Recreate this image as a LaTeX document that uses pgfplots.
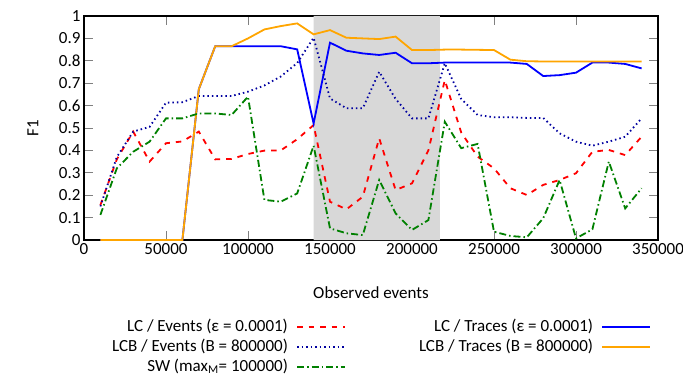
\documentclass[border=0pt]{standalone}
\usepackage{pgfplots}
\pgfplotsset{compat=1.18}
\usepackage{fontspec}
\setmainfont{Carlito}
\newcommand\eps{\symbol{"03B5}}
\definecolor{lcred}{RGB}{255,0,0}
\definecolor{lcblue}{RGB}{0,0,255}
\definecolor{lcnavy}{RGB}{0,0,160}
\definecolor{lcorange}{RGB}{255,165,0}
\definecolor{lcgreen}{RGB}{0,128,0}
\definecolor{lcshade}{RGB}{216,216,216}
\tikzset{
 sred/.style={draw=lcred, line width=1.8bp, dash pattern=on 5.5bp off 6bp},
 sblue/.style={draw=lcblue, line width=1.8bp},
 snavy/.style={draw=lcnavy, line width=1.8bp, dash pattern=on 1.5bp off 3bp},
 sorange/.style={draw=lcorange, line width=1.8bp},
 sgreen/.style={draw=lcgreen, line width=1.8bp, dash pattern=on 7bp off 3bp on 1.5bp off 3bp},
}
\pgfplotsset{
 lred/.style={legend image code/.code={\path (0bp,-2bp) (55bp,2bp); \draw[sred] (7bp,0bp) -- (55bp,0bp);}},
 lblue/.style={legend image code/.code={\path (0bp,-2bp) (55bp,2bp); \draw[sblue] (7bp,0bp) -- (55bp,0bp);}},
 lnavy/.style={legend image code/.code={\path (0bp,-2bp) (55bp,2bp); \draw[snavy] (7bp,0bp) -- (55bp,0bp);}},
 lorange/.style={legend image code/.code={\path (0bp,-2bp) (55bp,2bp); \draw[sorange] (7bp,0bp) -- (55bp,0bp);}},
 lgreen/.style={legend image code/.code={\path (0bp,-2bp) (55bp,2bp); \draw[sgreen] (7bp,0bp) -- (55bp,0bp);}},
}
\begin{document}
\begin{tikzpicture}
\begin{axis}[
 name=ax,
 scale only axis, width=574bp, height=224bp,
 xmin=0, xmax=350000, ymin=0, ymax=1,
 xtick={0,50000,100000,150000,200000,250000,300000,350000},
 ytick={0,0.1,0.2,0.3,0.4,0.5,0.6,0.7,0.8,0.9,1},
 scaled x ticks=false,
 xticklabel style={/pgf/number format/fixed, /pgf/number format/1000 sep={}},
 yticklabel style={/pgf/number format/fixed},
 /pgf/number format/assume math mode=true,
 font=\fontsize{17bp}{20bp}\selectfont,
 tick align=inside, major tick length=9bp,
 tick style={gray, line width=0.8bp},
 axis line style={line width=1.2bp},
 xlabel={Observed events}, ylabel={F1},
 every axis x label/.style={at={(axis description cs:0.5,-0.237)}, anchor=center},
 every axis y label/.style={at={(axis description cs:-0.089,0.5)}, rotate=90, anchor=center},
 legend columns=2, legend cell align=right, legend plot pos=right,
 legend style={draw=none, fill=none, at={(axis description cs:0.040,-0.335)}, anchor=north west,
   font=\fontsize{17bp}{20bp}\selectfont,
   nodes={inner sep=2bp, text height=12bp, text depth=4bp},
   /tikz/every even column/.append style={column sep=71bp}},
]
\addlegendimage{lred}
\addlegendentry{LC / Events (\eps{} = 0.0001)}
\addlegendimage{lblue}
\addlegendentry{LC / Traces (\eps{} = 0.0001)}
\addlegendimage{lnavy}
\addlegendentry{LCB / Events (B = 800000)}
\addlegendimage{lorange}
\addlegendentry{LCB / Traces (B = 800000)}
\addlegendimage{lgreen}
\addlegendentry{SW (max\textsubscript{M}= 100000)}

\addplot[fill=lcshade, draw=none, forget plot] coordinates {(140000,0) (217000,0) (217000,1) (140000,1)} \closedcycle;

\addplot[sred, forget plot] coordinates {
(10000,0.156) (20000,0.36) (30000,0.484) (40000,0.35) (50000,0.432) (60000,0.44) (70000,0.484) (80000,0.36) (90000,0.362) (100000,0.384) (110000,0.399) (120000,0.40) (130000,0.45) (140000,0.513) (150000,0.171) (160000,0.137) (170000,0.193) (180000,0.454) (190000,0.223) (200000,0.253) (210000,0.40) (220000,0.714) (230000,0.48) (240000,0.372) (250000,0.32) (260000,0.231) (270000,0.201) (280000,0.246) (290000,0.268) (300000,0.298) (310000,0.394) (320000,0.402) (330000,0.379) (340000,0.461)};

\addplot[sblue, forget plot] coordinates {
(10000,0) (20000,0) (30000,0) (40000,0) (50000,0) (60000,0) (70000,0.673) (80000,0.865) (90000,0.865) (100000,0.865) (110000,0.865) (120000,0.865) (130000,0.851) (140000,0.52) (150000,0.881) (160000,0.845) (170000,0.833) (180000,0.826) (190000,0.836) (200000,0.789) (210000,0.789) (220000,0.792) (230000,0.792) (240000,0.792) (250000,0.792) (260000,0.792) (270000,0.786) (280000,0.732) (290000,0.736) (300000,0.747) (310000,0.792) (320000,0.792) (330000,0.786) (340000,0.766)};

\addplot[snavy, forget plot] coordinates {
(10000,0.15) (20000,0.37) (30000,0.484) (40000,0.505) (50000,0.613) (60000,0.615) (70000,0.643) (80000,0.643) (90000,0.643) (100000,0.662) (110000,0.69) (120000,0.73) (130000,0.79) (140000,0.903) (150000,0.632) (160000,0.588) (170000,0.588) (180000,0.751) (190000,0.63) (200000,0.543) (210000,0.543) (220000,0.789) (230000,0.63) (240000,0.558) (250000,0.548) (260000,0.548) (270000,0.545) (280000,0.545) (290000,0.476) (300000,0.439) (310000,0.421) (320000,0.439) (330000,0.461) (340000,0.543)};

\addplot[sorange, forget plot] coordinates {
(10000,0) (20000,0) (30000,0) (40000,0) (50000,0) (60000,0) (70000,0.673) (80000,0.865) (90000,0.865) (100000,0.90) (110000,0.94) (120000,0.955) (130000,0.967) (140000,0.918) (150000,0.937) (160000,0.903) (170000,0.90) (180000,0.897) (190000,0.908) (200000,0.848) (210000,0.848) (220000,0.85) (230000,0.85) (240000,0.849) (250000,0.848) (260000,0.805) (270000,0.798) (280000,0.797) (290000,0.797) (300000,0.797) (310000,0.797) (320000,0.797) (330000,0.797) (340000,0.797)};

\addplot[sgreen, forget plot] coordinates {
(10000,0.112) (20000,0.32) (30000,0.394) (40000,0.439) (50000,0.543) (60000,0.543) (70000,0.565) (80000,0.565) (90000,0.558) (100000,0.64) (110000,0.179) (120000,0.171) (130000,0.208) (140000,0.421) (150000,0.052) (160000,0.03) (170000,0.022) (180000,0.268) (190000,0.119) (200000,0.045) (210000,0.089) (220000,0.528) (230000,0.41) (240000,0.429) (250000,0.037) (260000,0.018) (270000,0.012) (280000,0.097) (290000,0.268) (300000,0.007) (310000,0.048) (320000,0.35) (330000,0.141) (340000,0.231)};
\end{axis}
\pgfresetboundingbox
\path[use as bounding box] ([xshift=-84bp,yshift=-139bp]ax.south west) rectangle ([xshift=599bp,yshift=240bp]ax.south west);
\end{tikzpicture}
\end{document}
